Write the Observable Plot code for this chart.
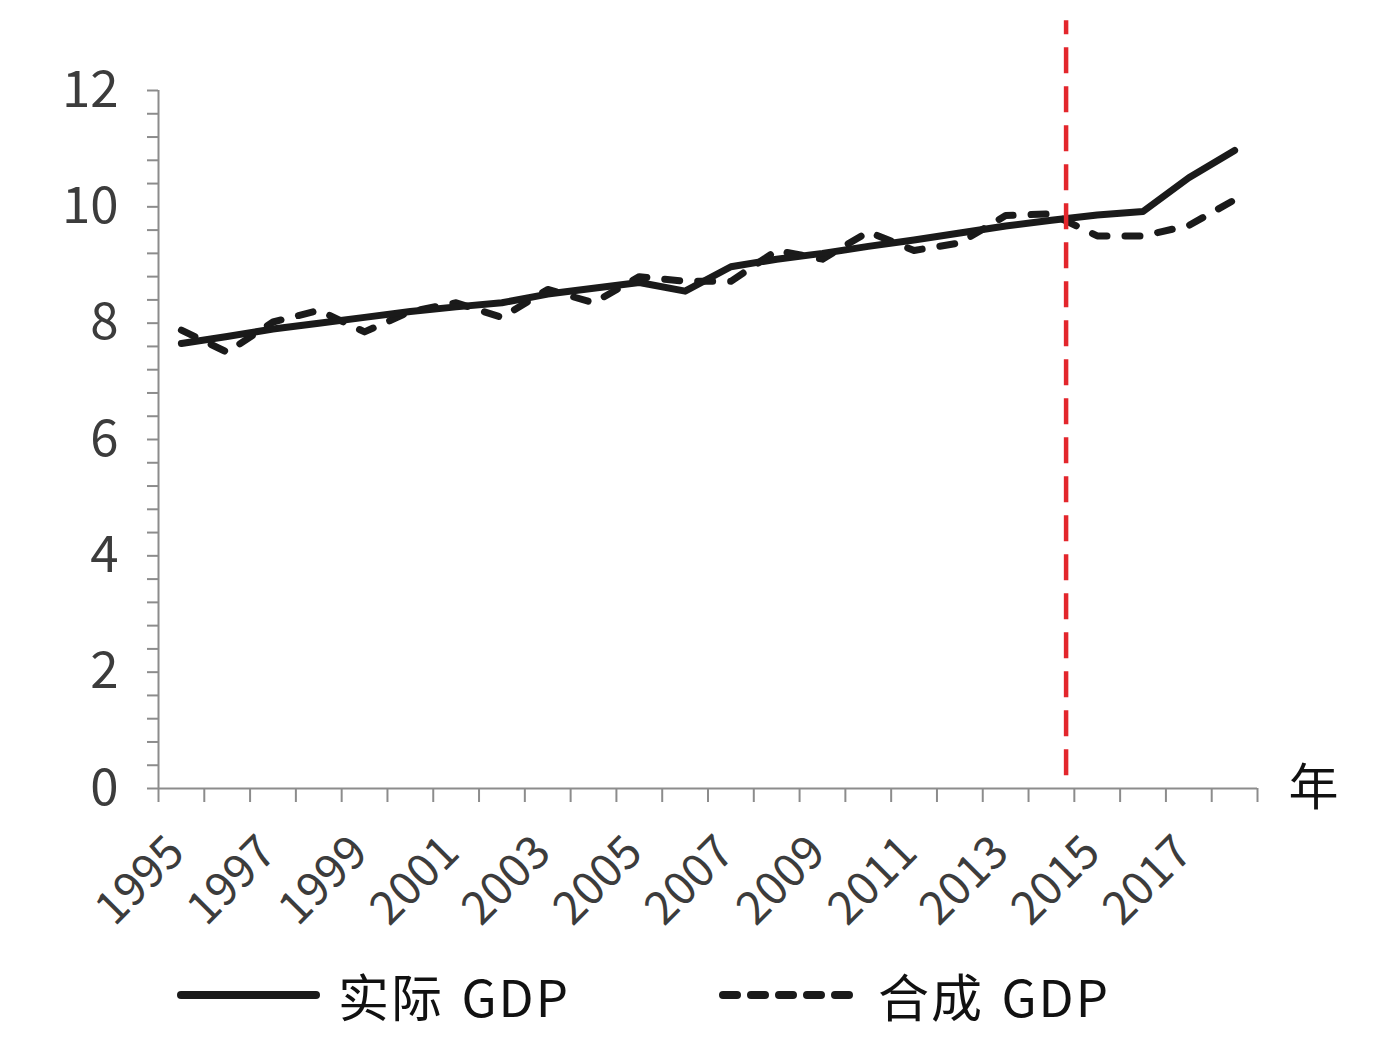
<!DOCTYPE html>
<html><head><meta charset="utf-8">
<script src="https://cdn.jsdelivr.net/npm/d3@7"></script>
<script src="https://cdn.jsdelivr.net/npm/@observablehq/plot@0.6"></script>
<style>
body{margin:0;background:#fff;font-family:"Noto Sans CJK SC","Noto Sans",sans-serif;}
#legend{position:relative;height:96px;width:1381px;}
</style></head><body>
<div id="chart"></div>
<div id="legend"></div>
<script>
const years = [1995,1996,1997,1998,1999,2000,2001,2002,2003,2004,2005,2006,2007,2008,2009,2010,2011,2012,2013,2014,2015,2016,2017,2018];
const actualGDP = [7.65,7.77,7.90,8.00,8.10,8.20,8.28,8.35,8.50,8.60,8.70,8.55,8.97,9.10,9.20,9.32,9.43,9.55,9.67,9.77,9.86,9.92,10.50,10.97];
const syntheticGDP = [7.88,7.50,8.02,8.22,7.85,8.20,8.35,8.10,8.58,8.35,8.80,8.72,8.72,9.25,9.10,9.57,9.25,9.38,9.85,9.88,9.50,9.50,9.68,10.12];
const yLabelTicks = [0,2,4,6,8,10,12];
const yMinorStep = 0.4;
const xLabelYears = [1995,1997,1999,2001,2003,2005,2007,2009,2011,2013,2015,2017];
const treatmentYear = 2014.32;
const seriesNames = ["实际 GDP","合成 GDP"];
const xUnit = "年";

const W = 1381, H = 950;
const axisColor = "#8c8c8c", textColor = "#3c3c3c", lineColor = "#1a1a1a";
const xDomain = [years[0]-0.5, years[years.length-1]+0.5];
const boundaries = [...years.map(y => y-0.5), years[years.length-1]+0.5];
const yMinor = d3.range(0, 12/yMinorStep + 1).map(i => +(i*yMinorStep).toFixed(1));
const rows = years.map((yr,i) => ({year: yr, actual: actualGDP[i], synthetic: syntheticGDP[i]}));

const plot = Plot.plot({
  width: W, height: H,
  marginLeft: 158, marginRight: 124, marginTop: 90, marginBottom: 162,
  x: {domain: xDomain, axis: null},
  y: {domain: [0, 12], axis: null},
  style: {fontFamily: '"Noto Sans CJK SC","Noto Sans",sans-serif', background: "#fff", overflow: "visible"},
  marks: [
    Plot.axisY(yMinor, {anchor: "left", tickSize: 11, tickFormat: () => "", label: null, stroke: axisColor, strokeWidth: 2}),
    Plot.axisY(yLabelTicks, {anchor: "left", tickSize: 0, tickPadding: 40, tickFormat: d => String(d), label: null, fontSize: 51, fill: textColor}),
    Plot.axisX(boundaries, {anchor: "bottom", tickSize: 14, tickFormat: () => "", label: null, stroke: axisColor, strokeWidth: 2}),
    Plot.ruleX([xDomain[0]], {y1: 0, y2: 12, stroke: axisColor, strokeWidth: 2}),
    Plot.ruleY([0], {x1: xDomain[0], x2: xDomain[1], stroke: axisColor, strokeWidth: 2}),
    Plot.text(xLabelYears, {x: d => d, y: 0, text: d => String(d), rotate: -45, textAnchor: "end", lineAnchor: "middle", dx: -5, dy: 56, fontSize: 46, fill: textColor}),
    Plot.text([xUnit], {x: xDomain[1], y: 0, text: d => d, dx: 56, textAnchor: "middle", fontSize: 50, fill: "#111"}),
    Plot.line(rows, {x: "year", y: "synthetic", stroke: lineColor, strokeWidth: 7, strokeDasharray: "15,18", strokeLinecap: "round", strokeLinejoin: "round"}),
    Plot.line(rows, {x: "year", y: "actual", stroke: lineColor, strokeWidth: 7, strokeLinecap: "round", strokeLinejoin: "round"}),
    Plot.ruleX([treatmentYear], {y1: 0.22, y2: 13.2, stroke: "#e3262c", strokeWidth: 4.5, strokeDasharray: "26,13"})
  ]
});
document.getElementById("chart").appendChild(plot);

// legend
const ns = "http://www.w3.org/2000/svg";
const lg = document.createElementNS(ns, "svg");
lg.setAttribute("width", W); lg.setAttribute("height", 96);
lg.style.position = "absolute"; lg.style.left = "0"; lg.style.top = "0";
const items = [
  {name: seriesNames[0], x1: 181, x2: 316, tx: 338, dash: null},
  {name: seriesNames[1], x1: 723, x2: 860, tx: 878, dash: "14,14"}
];
for (const it of items) {
  const l = document.createElementNS(ns, "line");
  l.setAttribute("x1", it.x1); l.setAttribute("x2", it.x2);
  l.setAttribute("y1", 45); l.setAttribute("y2", 45);
  l.setAttribute("stroke", lineColor); l.setAttribute("stroke-width", 8);
  l.setAttribute("stroke-linecap", "round");
  if (it.dash) l.setAttribute("stroke-dasharray", it.dash);
  lg.appendChild(l);
  const t = document.createElementNS(ns, "text");
  t.setAttribute("x", it.tx); t.setAttribute("y", 45);
  t.setAttribute("dominant-baseline", "central");
  t.setAttribute("font-size", 51); t.setAttribute("fill", "#111");
  t.setAttribute("word-spacing", 4); t.setAttribute("letter-spacing", 2);
  t.setAttribute("font-family", '"Noto Sans CJK SC","Noto Sans",sans-serif');
  t.textContent = it.name;
  lg.appendChild(t);
}
document.getElementById("legend").appendChild(lg);
</script>
</body></html>
